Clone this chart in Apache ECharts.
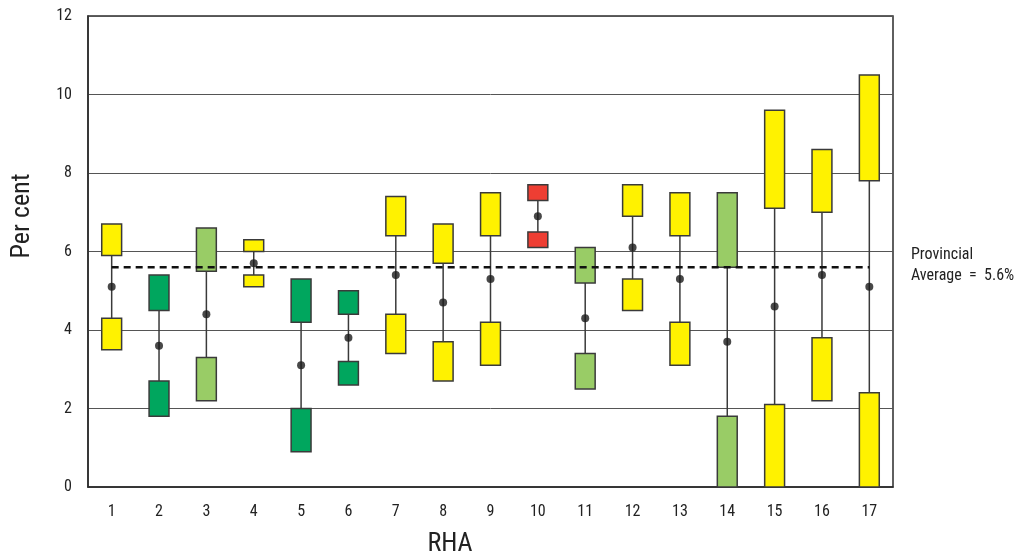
<!DOCTYPE html>
<html>
<head>
<meta charset="utf-8">
<script src="https://cdn.jsdelivr.net/npm/echarts@6/dist/echarts.min.js"></script>
<style>
  html, body { margin: 0; padding: 0; background: #fff; }
  #chart { width: 1024px; height: 558px; }
</style>
</head>
<body>
<div id="chart"></div>
<script>
// Regional health authorities
const categories = ['1','2','3','4','5','6','7','8','9','10','11','12','13','14','15','16','17'];

// Lower interval box (bottom, top), per cent
const lowerBoxBottom = [3.5, 1.8, 2.2, 5.1, 0.9, 2.6, 3.4, 2.7, 3.1, 6.1, 2.5, 4.5, 3.1, 0.0, 0.0, 2.2, 0.0];
const lowerBoxTop    = [4.3, 2.7, 3.3, 5.4, 2.0, 3.2, 4.4, 3.7, 4.2, 6.5, 3.4, 5.3, 4.2, 1.8, 2.1, 3.8, 2.4];

// Upper interval box (bottom, top), per cent
const upperBoxBottom = [5.9, 4.5, 5.5, 6.0, 4.2, 4.4, 6.4, 5.7, 6.4, 7.3, 5.2, 6.9, 6.4, 5.6, 7.1, 7.0, 7.8];
const upperBoxTop    = [6.7, 5.4, 6.6, 6.3, 5.3, 5.0, 7.4, 6.7, 7.5, 7.7, 6.1, 7.7, 7.5, 7.5, 9.6, 8.6, 10.5];

// Observed rate per RHA
const rates = [5.1, 3.6, 4.4, 5.7, 3.1, 3.8, 5.4, 4.7, 5.3, 6.9, 4.3, 6.1, 5.3, 3.7, 4.6, 5.4, 5.1];

// Box colour group per RHA
const groups = ['yellow','darkGreen','lightGreen','yellow','darkGreen','darkGreen','yellow','yellow','yellow',
                'red','lightGreen','yellow','yellow','lightGreen','yellow','yellow','yellow'];

const provincialAverage = 5.6;
const yTicks = [0, 2, 4, 6, 8, 10, 12];

const palette = {
  yellow: '#FFF200',
  lightGreen: '#99CC66',
  darkGreen: '#00A65E',
  red: '#EE3E33'
};

const FONT = "'Liberation Sans Narrow', 'Roboto Condensed', 'DejaVu Sans Condensed', sans-serif";

const boxData = categories.map((c, i) => [i, lowerBoxBottom[i], lowerBoxTop[i], upperBoxBottom[i], upperBoxTop[i]]);
const averageLine = categories.map(() => provincialAverage);

const chart = echarts.init(document.getElementById('chart'), null, { renderer: 'canvas' });

function renderBoxes(params, api) {
  const i = api.value(0);
  const w = api.size([1, 0])[0] * 0.42;
  const fill = palette[groups[params.dataIndex]];
  const boxStyle = { fill: fill, stroke: '#3a3a3a', lineWidth: 1.5 };

  const lb = api.coord([i, api.value(1)]);
  const lt = api.coord([i, api.value(2)]);
  const ub = api.coord([i, api.value(3)]);
  const ut = api.coord([i, api.value(4)]);
  const x = lb[0];

  return {
    type: 'group',
    children: [
      {
        type: 'line',
        shape: { x1: x, y1: lt[1], x2: x, y2: ub[1] },
        style: { stroke: '#3a3a3a', lineWidth: 1.5 }
      },
      {
        type: 'rect',
        shape: { x: x - w / 2, y: lt[1], width: w, height: lb[1] - lt[1] },
        style: boxStyle
      },
      {
        type: 'rect',
        shape: { x: x - w / 2, y: ut[1], width: w, height: ub[1] - ut[1] },
        style: boxStyle
      }
    ]
  };
}

const option = {
  backgroundColor: '#ffffff',
  animation: false,
  grid: {
    left: 88, right: 131, top: 16, bottom: 71,
    show: true,
    borderColor: '#2b2b2b',
    borderWidth: 1.5,
    backgroundColor: 'transparent'
  },
  xAxis: {
    type: 'category',
    data: categories,
    boundaryGap: true,
    axisLine: { show: true, lineStyle: { color: '#2b2b2b', width: 1.5 } },
    axisTick: { show: false },
    axisLabel: { color: '#222', fontFamily: FONT, fontSize: 16, margin: 17 }
  },
  yAxis: {
    type: 'value',
    min: yTicks[0],
    max: yTicks[yTicks.length - 1],
    interval: 2,
    axisLine: { show: true, lineStyle: { color: '#2b2b2b', width: 1.5 } },
    axisTick: { show: false },
    axisLabel: { color: '#222', fontFamily: FONT, fontSize: 16, margin: 16 },
    splitLine: { show: true, lineStyle: { color: '#555', width: 1 } }
  },
  graphic: [
    {
      type: 'text',
      x: 22, y: 216,
      rotation: Math.PI / 2,
      style: {
        text: 'Per cent',
        fill: '#222',
        font: '26px ' + FONT,
        align: 'center',
        verticalAlign: 'middle'
      }
    },
    {
      type: 'text',
      x: 450, y: 544,
      style: {
        text: 'RHA',
        fill: '#222',
        font: '26px ' + FONT,
        align: 'center',
        verticalAlign: 'middle'
      }
    },
    {
      type: 'text',
      left: 911, top: 244,
      style: {
        text: 'Provincial\nAverage  =  5.6%',
        fill: '#222',
        font: '16px ' + FONT,
        lineHeight: 21.5
      }
    }
  ],
  series: [
    {
      type: 'custom',
      name: 'Intervals',
      renderItem: renderBoxes,
      encode: { x: 0, y: [1, 2, 3, 4] },
      data: boxData,
      z: 2
    },
    {
      type: 'line',
      name: 'Provincial Average',
      data: averageLine,
      symbol: 'none',
      lineStyle: { color: '#111', width: 2.5, type: [7, 5] },
      z: 3
    },
    {
      type: 'scatter',
      name: 'Rate',
      data: rates,
      symbol: 'circle',
      symbolSize: 8,
      itemStyle: { color: '#1a1a1a' },
      z: 4
    }
  ]
};

chart.setOption(option);
</script>
</body>
</html>
